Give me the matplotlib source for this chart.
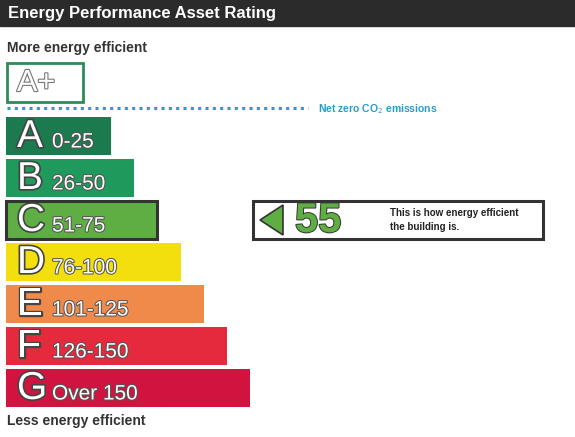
import matplotlib.pyplot as plt
import matplotlib.patheffects as pe
from matplotlib.patches import Rectangle, Polygon

plt.rcParams['font.family'] = ['Liberation Sans', 'DejaVu Sans']

title = "Energy Performance Asset Rating"
bands = ["A", "B", "C", "D", "E", "F", "G"]
ranges = ["0-25", "26-50", "51-75", "76-100", "101-125", "126-150", "Over 150"]
upper = [25, 50, 75, 100, 125, 150, 9999]
band_colors = ["#1b7b4e", "#1f9a5c", "#5eae44", "#f3df0e", "#f08a4b", "#e42a3c", "#d0143f"]
score = 55
caption = ["This is how energy efficient", "the building is."]

W, H = 575, 437
fig = plt.figure(figsize=(W / 100, H / 100), dpi=100)
ax = fig.add_axes([0, 0, 1, 1])
ax.set_xlim(0, W)
ax.set_ylim(H, 0)
ax.axis("off")

# title bar
ax.add_patch(Rectangle((0, 0), W, 26, color="#2b2b2b"))
ax.text(8, 13.5, title, color="white", fontsize=12, weight="bold", va="center")

ax.text(7, 48, "More energy efficient", fontsize=10, weight="bold", color="#333333", va="center")

# A+ box
ax.add_patch(Rectangle((7, 63), 76, 39, fill=False, ec="#2e8a5a", lw=2))
ax.text(17, 83, "A+", fontsize=22, color="white", va="center",
        path_effects=[pe.withStroke(linewidth=1.6, foreground="#777777")])

# net zero line
ax.plot([7, 308], [108, 108], ls=(0, (1, 1.4)), color="#2a9bcc", lw=2.2)
ax.text(318, 109, "Net zero CO$_2$ emissions", fontsize=7.5, weight="bold", color="#2a9bcc", va="center")

rated = next(i for i, u in enumerate(upper) if score <= u)
stroke = [pe.withStroke(linewidth=2.4, foreground="#444444")]
for i, (b, r, c) in enumerate(zip(bands, ranges, band_colors)):
    y0 = 117 + i * 42
    w = 105 + i * 23.2
    if i == rated:
        ax.add_patch(Rectangle((6, y0), w, 38, fc=c, ec="#333333", lw=2.2))
    else:
        ax.add_patch(Rectangle((6, y0), w, 38, fc=c, ec="none"))
    ax.text(17, y0 + 20, b, fontsize=28, color="white", va="center", path_effects=stroke)
    ax.text(52, y0 + 25, r, fontsize=15, color="white", va="center",
            path_effects=[pe.withStroke(linewidth=1.5, foreground="#555555")])

# score box
y0 = 117 + rated * 42
ax.add_patch(Rectangle((253, y0), 290, 38, fc="white", ec="#333333", lw=2.2))
ax.add_patch(Polygon([(260, y0 + 19), (283, y0 + 4), (283, y0 + 34)], closed=True,
                     fc=band_colors[rated], ec="#333333", lw=1.2))
ax.text(295, y0 + 20, str(score), fontsize=30, weight="bold", color=band_colors[rated], va="center",
        path_effects=[pe.withStroke(linewidth=1.4, foreground="#333333")])
ax.text(390, y0 + 12, caption[0], fontsize=7, weight="bold", color="#222222", va="center")
ax.text(390, y0 + 26, caption[1], fontsize=7, weight="bold", color="#222222", va="center")

ax.text(7, 421, "Less energy efficient", fontsize=10, weight="bold", color="#333333", va="center")

fig.savefig("out.png", dpi=100)
